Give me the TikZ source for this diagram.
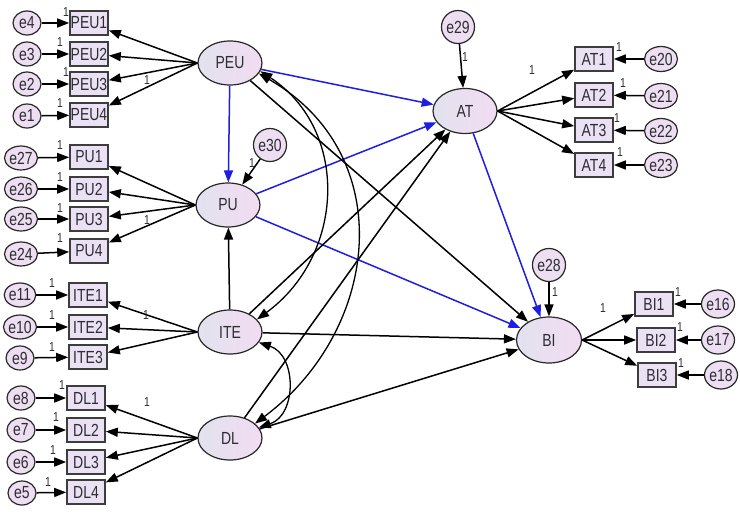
\documentclass[tikz,border=0pt]{standalone}
\usepackage{fontspec}
\setmainfont{Liberation Sans}[FakeStretch=0.8]
\usetikzlibrary{arrows.meta,shapes.geometric}
\definecolor{pathblue}{RGB}{30,30,225}
\definecolor{txt}{RGB}{45,45,50}
\definecolor{latL}{RGB}{226,226,238}
\definecolor{latR}{RGB}{242,220,242}
\definecolor{boxfill}{RGB}{234,226,244}
\definecolor{errfill}{RGB}{238,222,242}
\definecolor{edge}{RGB}{40,40,40}
\begin{document}
\begin{tikzpicture}[x=1pt,y=1pt,
  lat/.style={ellipse, draw=edge, line width=1.2pt, left color=latL, right color=latR,
    minimum width=64pt, minimum height=44pt, inner sep=0pt, text=txt,
    font=\fontsize{17.5}{17.5}\selectfont},
  obs/.style={rectangle, draw=edge!90, line width=1.6pt, fill=boxfill,
    minimum width=38pt, minimum height=24pt, inner sep=0pt, text=txt,
    font=\fontsize{17.5}{17.5}\selectfont},
  err/.style={ellipse, draw=edge, line width=1.2pt, fill=errfill,
    minimum width=28pt, minimum height=24pt, inner sep=0pt, text=txt,
    font=\fontsize{17.5}{17.5}\selectfont},
  errv/.style={err, minimum width=24pt, minimum height=33pt},
  one/.style={font=\fontsize{13}{13}\selectfont, inner sep=0pt, text=txt},
  arr/.style={line width=1.5pt, draw=black, -{Triangle[length=12pt,width=9pt]}},
  barr/.style={line width=1.5pt, draw=pathblue, -{Triangle[length=12pt,width=9pt]}},
  cov/.style={line width=1.3pt, draw=black, {Triangle[length=12pt,width=9pt]}-{Triangle[length=12pt,width=9pt]}}
]
\useasboundingbox (0,0) rectangle (740,-520);
\fill[white] (0,0) rectangle (740,-520);

% ---------- latent variables ----------
\node[lat] (PEU) at (230,-63) {PEU};
\node[lat] (PU)  at (228,-205) {PU};
\node[lat] (ITE) at (230,-332) {ITE};
\node[lat] (DL)  at (230,-438) {DL};
\node[lat, minimum width=64pt, minimum height=45pt] (AT) at (465,-111) {AT};
\node[lat, minimum width=65pt, minimum height=46pt] (BI) at (549,-340) {BI};

% ---------- indicators ----------
\node[obs] (PEU1) at (89,-23) {PEU1};
\node[obs] (PEU2) at (89,-54) {PEU2};
\node[obs] (PEU3) at (89,-84) {PEU3};
\node[obs] (PEU4) at (89,-115) {PEU4};
\node[obs] (PU1) at (89,-157) {PU1};
\node[obs] (PU2) at (89,-189) {PU2};
\node[obs] (PU3) at (89,-219) {PU3};
\node[obs] (PU4) at (89,-251) {PU4};
\node[obs] (ITE1) at (88,-295) {ITE1};
\node[obs] (ITE2) at (88,-327) {ITE2};
\node[obs] (ITE3) at (88,-357) {ITE3};
\node[obs] (DL1) at (86,-398) {DL1};
\node[obs] (DL2) at (86,-430) {DL2};
\node[obs] (DL3) at (86,-462) {DL3};
\node[obs] (DL4) at (86,-492) {DL4};
\node[obs] (AT1) at (594,-59) {AT1};
\node[obs] (AT2) at (594,-95) {AT2};
\node[obs] (AT3) at (594,-130) {AT3};
\node[obs] (AT4) at (594,-165) {AT4};
\node[obs] (BI1) at (654,-304) {BI1};
\node[obs] (BI2) at (656,-340) {BI2};
\node[obs] (BI3) at (657,-375) {BI3};

% ---------- error terms ----------
\node[err] (e4) at (27,-23) {e4};
\node[err] (e3) at (27,-54) {e3};
\node[err] (e2) at (27,-84) {e2};
\node[err] (e1) at (27,-116) {e1};
\node[err] (e27) at (21,-158) {e27};
\node[err] (e26) at (21,-189) {e26};
\node[err] (e25) at (21,-219) {e25};
\node[err] (e24) at (21,-254) {e24};
\node[err] (e11) at (20,-295) {e11};
\node[err] (e10) at (20,-327) {e10};
\node[err] (e9) at (20,-358) {e9};
\node[err] (e8) at (21,-398) {e8};
\node[err] (e7) at (21,-430) {e7};
\node[err] (e6) at (21,-462) {e6};
\node[err] (e5) at (22,-493) {e5};
\node[err, minimum height=25pt] (e20) at (661,-59) {e20};
\node[err, minimum height=25pt] (e21) at (661,-96) {e21};
\node[err, minimum height=25pt] (e22) at (661,-131) {e22};
\node[err, minimum height=25pt] (e23) at (661,-165) {e23};
\node[err, minimum height=28pt] (e16) at (718,-304) {e16};
\node[err, minimum height=28pt] (e17) at (718,-340) {e17};
\node[err, minimum height=28pt] (e18) at (721,-375) {e18};
\node[errv] (e29) at (458,-27) {e29};
\node[errv] (e28) at (549,-265) {e28};
\node[errv] (e30) at (270,-145) {e30};

% ---------- error arrows ----------
\foreach \e/\v in {e4/PEU1,e3/PEU2,e2/PEU3,e1/PEU4,e27/PU1,e26/PU2,e25/PU3,e24/PU4,
  e11/ITE1,e10/ITE2,e9/ITE3,e8/DL1,e7/DL2,e6/DL3,e5/DL4,
  e20/AT1,e21/AT2,e22/AT3,e23/AT4,e16/BI1,e17/BI2,e18/BI3,e29/AT,e28/BI,e30/PU}
  \draw[arr] (\e) -- (\v);

% ---------- loadings ----------
\foreach \v in {PEU1,PEU2,PEU3,PEU4} \draw[arr] (PEU.west) -- (\v);
\foreach \v in {PU1,PU2,PU3,PU4} \draw[arr] (PU.west) -- (\v);
\foreach \v in {ITE1,ITE2,ITE3} \draw[arr] (ITE.west) -- (\v);
\foreach \v in {DL1,DL2,DL3,DL4} \draw[arr] (DL.west) -- (\v);
\foreach \v in {AT1,AT2,AT3,AT4} \draw[arr] (AT.east) -- (\v);
\foreach \v in {BI1,BI2,BI3} \draw[arr] (BI.east) -- (\v);

% ---------- structural paths ----------
\draw[barr] (PEU) -- (PU);
\draw[barr] (PEU) -- (AT);
\draw[barr] (PU) -- (AT);
\draw[barr] (PU) -- (BI);
\draw[barr] (AT) -- (BI);
\draw[arr] (PEU) -- (BI);
\draw[arr] (ITE) -- (PU);
\draw[arr] (ITE) -- (AT);
\draw[arr] (DL) -- (AT);
\draw[arr] (ITE) -- (BI);
\draw[arr] (DL) -- (BI);

% ---------- covariances ----------
\draw[cov] (PEU.-15) .. controls (350,-130) and (345,-255) .. (ITE.25);
\draw[cov] (PEU.-20) .. controls (400,-155) and (380,-330) .. (DL.30);
\draw[cov] (ITE.-20) .. controls (297,-355) and (297,-415) .. (DL.20);

% ---------- "1" labels ----------
\node[one] (l1) at (66,-12) {1};
\node[one] (l2) at (60,-42) {1};
\node[one] (l3) at (66,-72) {1};
\node[one] (l4) at (60,-103) {1};
\node[one] (l5) at (60,-145) {1};
\node[one] (l6) at (60,-177) {1};
\node[one] (l7) at (60,-208) {1};
\node[one] (l8) at (60,-238) {1};
\node[one] (l9) at (52,-283) {1};
\node[one] (l10) at (52,-315) {1};
\node[one] (l11) at (52,-347) {1};
\node[one] (l12) at (62,-385) {1};
\node[one] (l13) at (56,-417) {1};
\node[one] (l14) at (53,-450) {1};
\node[one] (l15) at (48,-482) {1};
\node[one] (l16) at (619,-47) {1};
\node[one] (l17) at (623,-83) {1};
\node[one] (l18) at (617,-118) {1};
\node[one] (l19) at (620,-152) {1};
\node[one] (l20) at (678,-292) {1};
\node[one] (l21) at (680,-327) {1};
\node[one] (l22) at (681,-363) {1};
\node[one] (l23) at (465,-57) {1};
\node[one] (l24) at (555,-292) {1};
\node[one] (l25) at (252,-163) {1};
\node[one] (l26) at (147,-80) {1};
\node[one] (l27) at (147,-220) {1};
\node[one] (l28) at (146,-315) {1};
\node[one] (l29) at (147,-402) {1};
\node[one] (l30) at (532,-70) {1};
\node[one] (l31) at (603,-308) {1};
\end{tikzpicture}
\end{document}
